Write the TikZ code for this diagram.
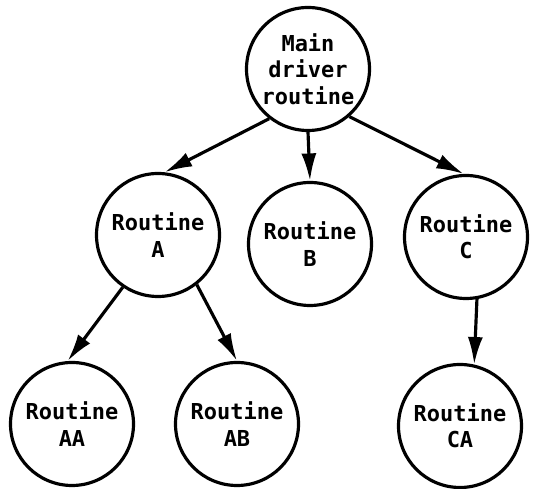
\documentclass[tikz,border=0pt]{standalone}
\usepackage{fontspec}
\setmonofont{DejaVu Sans Mono}
\usetikzlibrary{arrows.meta,positioning}

\begin{document}
\begin{tikzpicture}[
    routine/.style={circle,draw,line width=1.8pt,inner sep=0pt,
                    minimum size=2.46cm,align=center,
                    font=\ttfamily\bfseries\fontsize{12.5}{15}\selectfont},
    call/.style={-{Latex[length=5.5mm,width=3mm]},line width=1.8pt}
  ]
    \useasboundingbox (0,0) rectangle (10.7,9.78);
    % top level
    \node[routine] (main) at (6.16,8.40) {Main\\driver\\routine};
    % second level
    \node[routine] (rA) at (3.16,5.08) {Routine\\A};
    \node[routine] (rB) at (6.20,4.90) {Routine\\B};
    \node[routine] (rC) at (9.32,5.04) {Routine\\C};
    % third level
    \node[routine] (rAA) at (1.44,1.30) {Routine\\AA};
    \node[routine] (rAB) at (4.74,1.30) {Routine\\AB};
    \node[routine] (rCA) at (9.20,1.26) {Routine\\CA};
    \draw[call] (main.-128) -- (rA.84);
    \draw[call] (main.south) -- (rB.north);
    \draw[call] (main.-49) -- (rC.92);
    \draw[call] (rA.-124) -- (rAA.94);
    \draw[call] (rA.-52) -- (rAB.90);
    \draw[call] (rC.-80) -- (rCA.77);
  \end{tikzpicture}
\end{document}
